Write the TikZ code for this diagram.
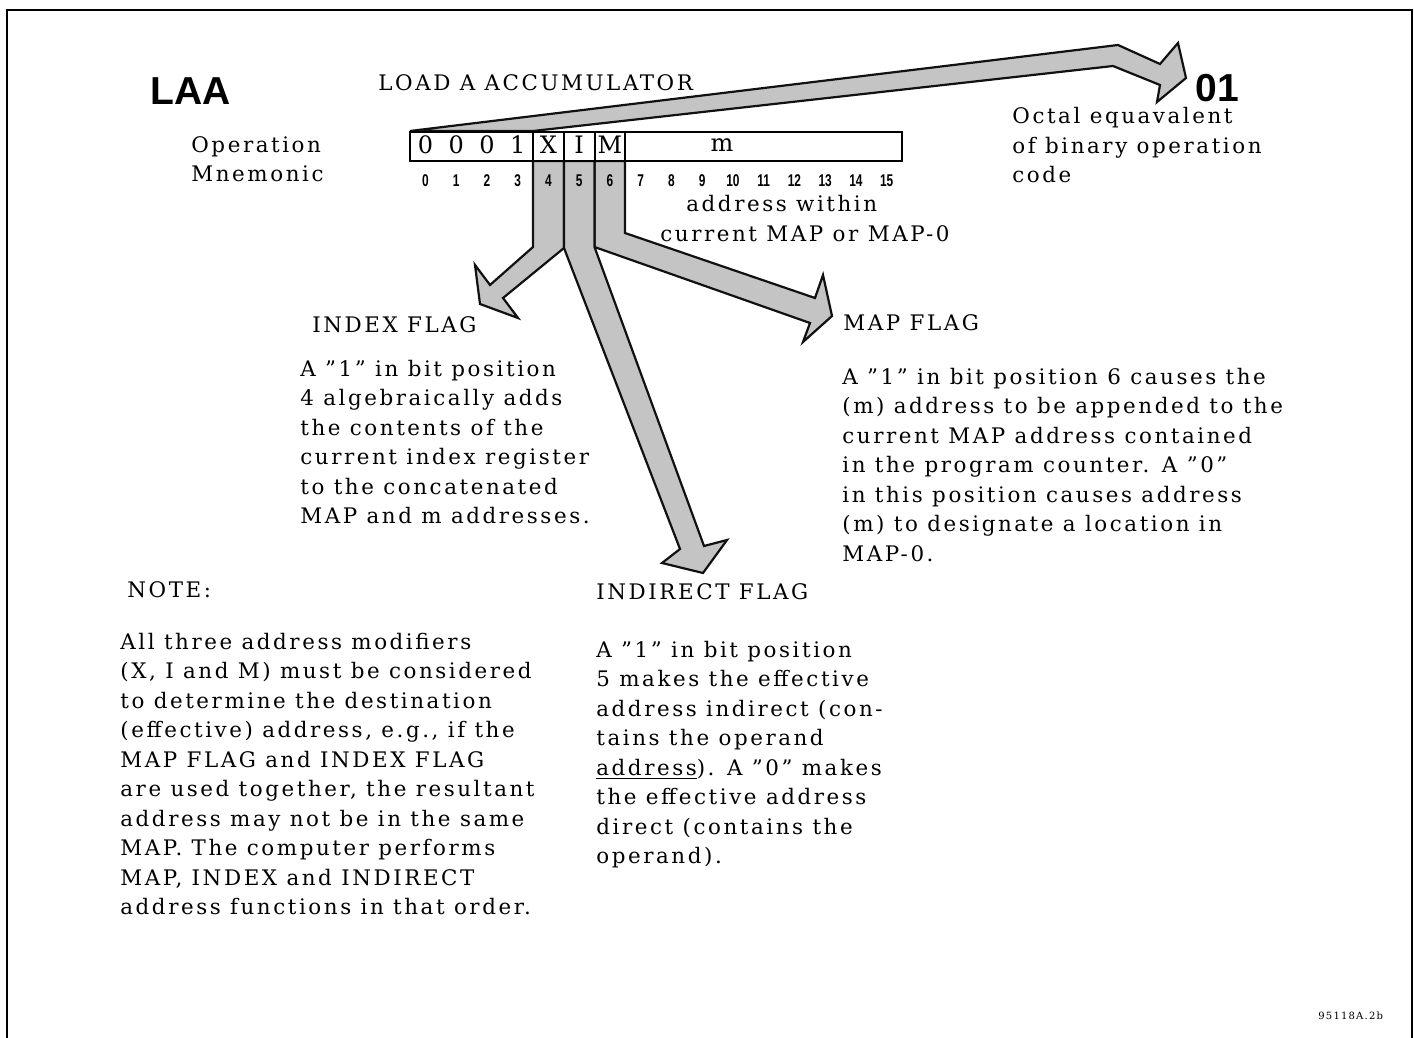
\documentclass[tikz,border=0pt]{standalone}
\usepackage{fontspec}
\setmainfont{DejaVu Serif}[LetterSpace=12]
\setsansfont{Liberation Sans}
\usetikzlibrary{positioning}
\definecolor{flaggray}{HTML}{C4C4C4}
\definecolor{inkblack}{HTML}{111111}
% anchored at the baseline of the last line
\newcommand{\flagtext}[3]{%
  \node[anchor=base west, align=left, inner sep=0pt] (#1) at (#2) {#3};}

\begin{document}
\begin{tikzpicture}[x=0.5pt, y=-0.5pt, font=\fontsize{10.7}{14.75}\selectfont,
    flagarrow/.style={draw=inkblack, line width=1.1pt, fill=flaggray, line join=miter},
    bitnum/.style={font=\sffamily\bfseries\fontsize{8.5}{9}\selectfont, inner sep=0pt},
    cell/.style={font=\fontsize{12}{14}\selectfont, inner sep=0pt, anchor=base}]
  \useasboundingbox (0,0) rectangle (1414,1038);
  \draw[line width=1.4pt] (7,1038) -- (7,10) -- (1412,10) -- (1412,1038);

  % block arrows out of the instruction word
  \draw[flagarrow] (410,131) -- (1118,45) -- (1160,64) -- (1178,43) -- (1186,78)
    -- (1157,102) -- (1160,85) -- (1113,66) -- (533,131) -- cycle;
  \draw[flagarrow] (533,161) -- (533,247) -- (490,285) -- (475,265) -- (480,304)
    -- (518,318) -- (503,298) -- (564,248) -- (564,161) -- cycle;
  \draw[flagarrow] (594.5,161) -- (594.5,247) -- (810,323) -- (803,342) -- (832,316)
    -- (823,275) -- (815,298) -- (625,233) -- (625,161) -- cycle;
  \draw[flagarrow] (564,161) -- (564,248) -- (680,549) -- (662,563) -- (703,573)
    -- (727,540) -- (704,546) -- (594.5,247) -- (594.5,161) -- cycle;

  % instruction word
  \draw[line width=1pt, fill=white] (410,132) rectangle (902,161);
  \foreach \b in {4,5,6,7}
    \draw[line width=1pt] ({410+30.75*\b},132) -- ({410+30.75*\b},161);
  \foreach \b/\t in {0/0,1/0,2/0,3/1,4/X,5/I,6/M}
    \node[cell] (c\b) at ({425.4+30.75*\b},154) {\t};
  \node[cell] (cm) at (722,152) {m};
  \foreach \b in {0,...,15}
    \node[bitnum] (b\b) at ({425.4+30.75*\b},181) {\scalebox{0.7}[1]{\b}};

  % headings
  \node[anchor=west, inner sep=0pt, font=\sffamily\bfseries\fontsize{19.5}{20}\selectfont] (laa) at (150,91) {LAA};
  \node[anchor=west, inner sep=0pt, font=\sffamily\bfseries\fontsize{19.5}{20}\selectfont] (octal) at (1195,88) {01};
  \flagtext{title}{378,91}{LOAD A ACCUMULATOR}
  \flagtext{opmnem}{191,182}{Operation\\Mnemonic}
  \flagtext{octaltxt}{1012,183}{Octal equavalent\\of binary operation\\code}
  \flagtext{addr}{686,212}{address within}
  \flagtext{addrmap}{660,242}{current MAP or MAP-0}

  % flag descriptions
  \flagtext{indexhd}{312,332}{INDEX FLAG}
  \flagtext{indextxt}{300,523.5}{A ''1'' in bit position\\4 algebraically adds\\the contents of the\\current index register\\to the concatenated\\MAP and m addresses.}
  \flagtext{maphd}{843,330}{MAP FLAG}
  \flagtext{maptxt}{842,561}{A ''1'' in bit position 6 causes the\\(m) address to be appended to the\\current MAP address contained\\in the program counter.  A ''0''\\in this position causes address\\(m) to designate a location in\\MAP-0.}
  \flagtext{indirhd}{596,599}{INDIRECT FLAG}
  \flagtext{indirtxt}{596,863.5}{A ''1'' in bit position\\5 makes the effective\\address indirect (con-\\tains the operand\\\underline{address}).  A ''0'' makes\\the effective address\\direct (contains the\\operand).}
  \flagtext{notehd}{127,597}{NOTE:}
  \flagtext{notetxt}{120,914.5}{All three address modifiers\\(X, I and M) must be considered\\to determine the destination\\(effective) address, e.g., if the\\MAP FLAG and INDEX FLAG\\are used together, the resultant\\address may not be in the same\\MAP.\@ The computer performs\\MAP, INDEX and INDIRECT\\address functions in that order.}
  \node[anchor=west, inner sep=0pt, font=\fontsize{5}{6}\selectfont] (figno) at (1318,1016) {95118A.2b};
\end{tikzpicture}
\end{document}
